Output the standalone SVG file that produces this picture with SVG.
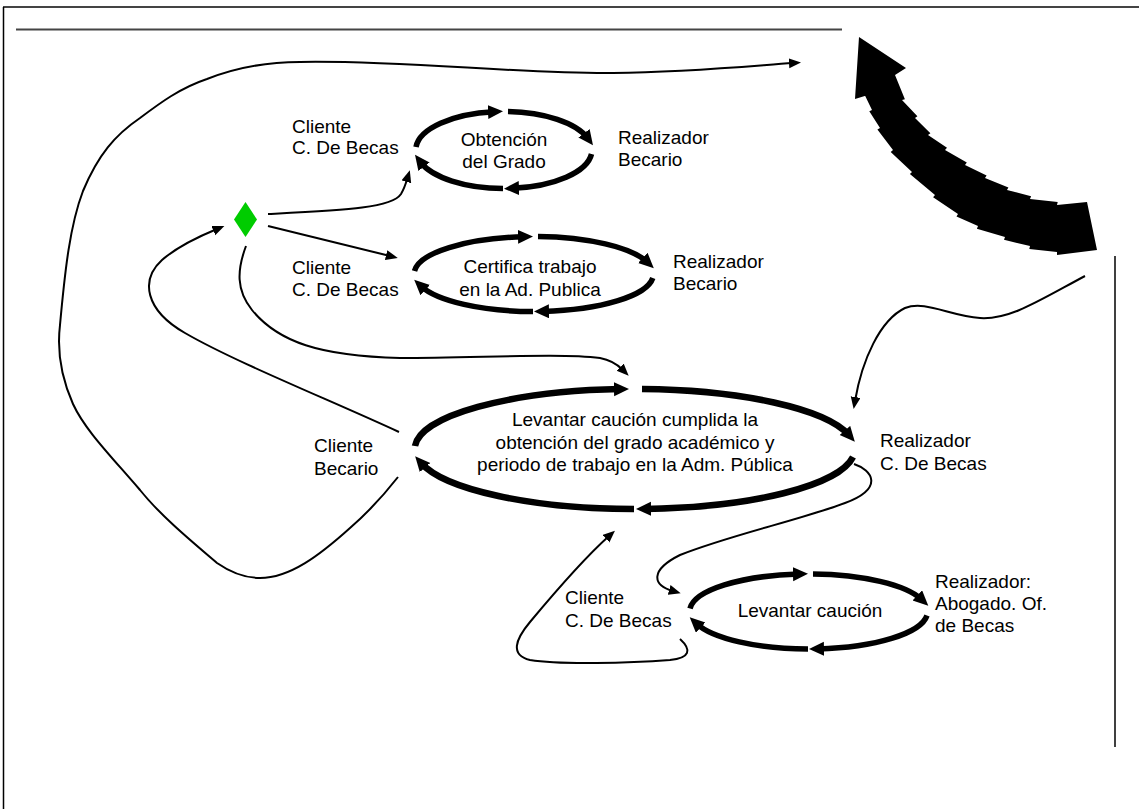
<svg xmlns="http://www.w3.org/2000/svg" width="1139" height="809" viewBox="0 0 1139 809">
<defs>
<style>
text{font-family:"Liberation Sans",Arial,sans-serif;font-size:19px;fill:#000}
.c{text-anchor:middle}
.loop{fill:none;stroke:#000;stroke-width:5.5;marker-end:url(#big)}
.loopb{fill:none;stroke:#000;stroke-width:6.5;marker-end:url(#big)}
.con{fill:none;stroke:#000;stroke-width:2;marker-end:url(#sm)}
.frame{stroke:#444;stroke-width:2;fill:none}
</style>
<marker id="big" markerUnits="userSpaceOnUse" markerWidth="16" markerHeight="15" refX="6" refY="7" orient="auto"><path d="M0,0 L15,7 L0,14 z" fill="#000"/></marker>
<marker id="sm" markerUnits="userSpaceOnUse" markerWidth="13" markerHeight="11" refX="4" refY="5" orient="auto"><path d="M0,0 L12,5 L0,10 z" fill="#000"/></marker>
</defs>
<rect width="1139" height="809" fill="#fff"/>
<g id="frame">
<line class="frame" x1="3" y1="7" x2="1139" y2="7"/>
<line x1="3.5" y1="7" x2="3.5" y2="809" stroke="#000" stroke-width="1.5"/>
<line class="frame" x1="16" y1="29.5" x2="842" y2="29.5"/>
<line x1="1115" y1="256" x2="1115" y2="747" stroke="#000" stroke-width="1.5"/>
</g>
<g id="big-arrow">
<path d="M859,37 L906,68 L895,75 L904.9,99.2 L902,100 L917.4,116.2 L915,118 L930.4,133.2 L928,135 L947,147.7 L945,150 L966.8,162.6 L965,165 L986.6,175.5 L985,178 L1008.4,187.4 L1007,190 L1031.1,196.2 L1030,199 L1057.7,202.1 L1057,205 L1087,202 L1097,250 L1057,255 L1057,252 L1029.3,248.9 L1030,246 L1004,239.8 L1005,237 L976.9,228.8 L978,226 L956.5,216.6 L958,214 L933.1,197.3 L935,195 L909.9,174.1 L912,172 L890.7,152 L893,150 L877.4,129.5 L880,128 L869.3,111.2 L872,110 L865.1,95.8 L868,95 L855,99 Z" fill="#000"/>
</g>
<g id="decision">
<polygon points="245.5,202 257,219.5 245.5,237 234,219.5" fill="#00cc00"/>
</g>
<g id="obtencion">
<path class="loop" d="M416,147 A88,38.5 0 0 1 494,111.8"/>
<path class="loop" d="M508,111.5 A88,38.5 0 0 1 587.6,138"/>
<path class="loop" d="M591.5,154 A88,38.5 0 0 1 513,188.3"/>
<path class="loop" d="M503,188.5 A88,38.5 0 0 1 420.4,162"/>
<text class="c" x="504" y="145.5">Obtención</text>
<text class="c" x="504" y="168">del Grado</text>
</g>
<g id="certifica">
<path class="loop" d="M414.5,271 A119.5,37.5 0 0 1 524,236.7"/>
<path class="loop" d="M538,236.5 A119.5,37.5 0 0 1 647.2,262"/>
<path class="loop" d="M652.8,278 A119.5,37.5 0 0 1 543,311.4"/>
<path class="loop" d="M533,311.5 A119.5,37.5 0 0 1 420.8,286"/>
<text class="c" x="530" y="273">Certifica trabajo</text>
<text class="c" x="530" y="295.5">en la Ad. Publica</text>
</g>
<g id="levantar-cumplida">
<path class="loopb" d="M415,446 A220,60 0 0 1 620,389.1"/>
<path class="loopb" d="M642,389 A220,60 0 0 1 848.9,435"/>
<path class="loopb" d="M853,457 A220,60 0 0 1 645,508.9"/>
<path class="loopb" d="M634,509 A220,60 0 0 1 421.1,463"/>
<text class="c" x="635" y="426">Levantar caución cumplida la</text>
<text class="c" x="635" y="448.5">obtención del grado académico y</text>
<text class="c" x="635" y="471">periodo de trabajo en la Adm. Pública</text>
</g>
<g id="levantar">
<path class="loop" d="M690,608.5 A119,37.5 0 0 1 799,574.1"/>
<path class="loop" d="M813,574 A119,37.5 0 0 1 921.7,599.5"/>
<path class="loop" d="M927,615.5 A119,37.5 0 0 1 818,648.9"/>
<path class="loop" d="M808,649 A119,37.5 0 0 1 696.3,623.5"/>
<text class="c" x="810" y="616.5">Levantar caución</text>
</g>
<g id="labels">
<text x="292" y="132.5">Cliente</text>
<text x="292" y="154">C. De Becas</text>
<text x="618" y="144">Realizador</text>
<text x="618" y="166">Becario</text>
<text x="292" y="273.5">Cliente</text>
<text x="292" y="296">C. De Becas</text>
<text x="673" y="268">Realizador</text>
<text x="673" y="290">Becario</text>
<text x="314" y="452">Cliente</text>
<text x="314" y="475">Becario</text>
<text x="880" y="447">Realizador</text>
<text x="880" y="470">C. De Becas</text>
<text x="565" y="604">Cliente</text>
<text x="565" y="626.5">C. De Becas</text>
<text x="935" y="588">Realizador:</text>
<text x="935" y="610">Abogado. Of.</text>
<text x="935" y="632">de Becas</text>
</g>
<g id="connectors">
<path class="con" d="M268,214 C345,210 392,208 401,194 C404,189 406,183 407.5,178"/>
<path class="con" d="M268,226 L390,256"/>
<path class="con" d="M246,246 C237,270 236,290 252,310 C278,342 320,356 400,358 C480,358 560,353 600,358 C611,360 618,365 623,370"/>
<path class="con" d="M399,432 C330,400 235,362 185,333 C145,310 140,280 162,260 C178,246 200,236 217,229"/>
<path class="con" d="M398,477 C380,500 365,515 350,528 C320,555 290,578 260,578 C245,578 230,572 217,563 C190,540 160,515 140,490 C110,455 85,430 73,404 C60,375 57,350 60,325 C65,270 70,225 83,191 C98,155 115,135 140,118 C160,103 180,88 207,79 C235,68 265,62 300,62 C400,60 520,74 613,73 C690,72 750,66 793,63"/>
<path class="con" d="M1085,276 C1040,300 1010,320 980,318 C950,316 925,300 905,308 C880,320 862,360 855,401"/>
<path class="con" d="M854,464 C872,470 885,488 845,503 C800,520 730,535 680,555 C650,570 652,585 673,591"/>
<path class="con" d="M680,639 C692,650 690,658 670,660 C630,663 560,665 530,660 C510,655 515,640 530,622 C550,598 580,562 609,536"/>
</g>
</svg>
